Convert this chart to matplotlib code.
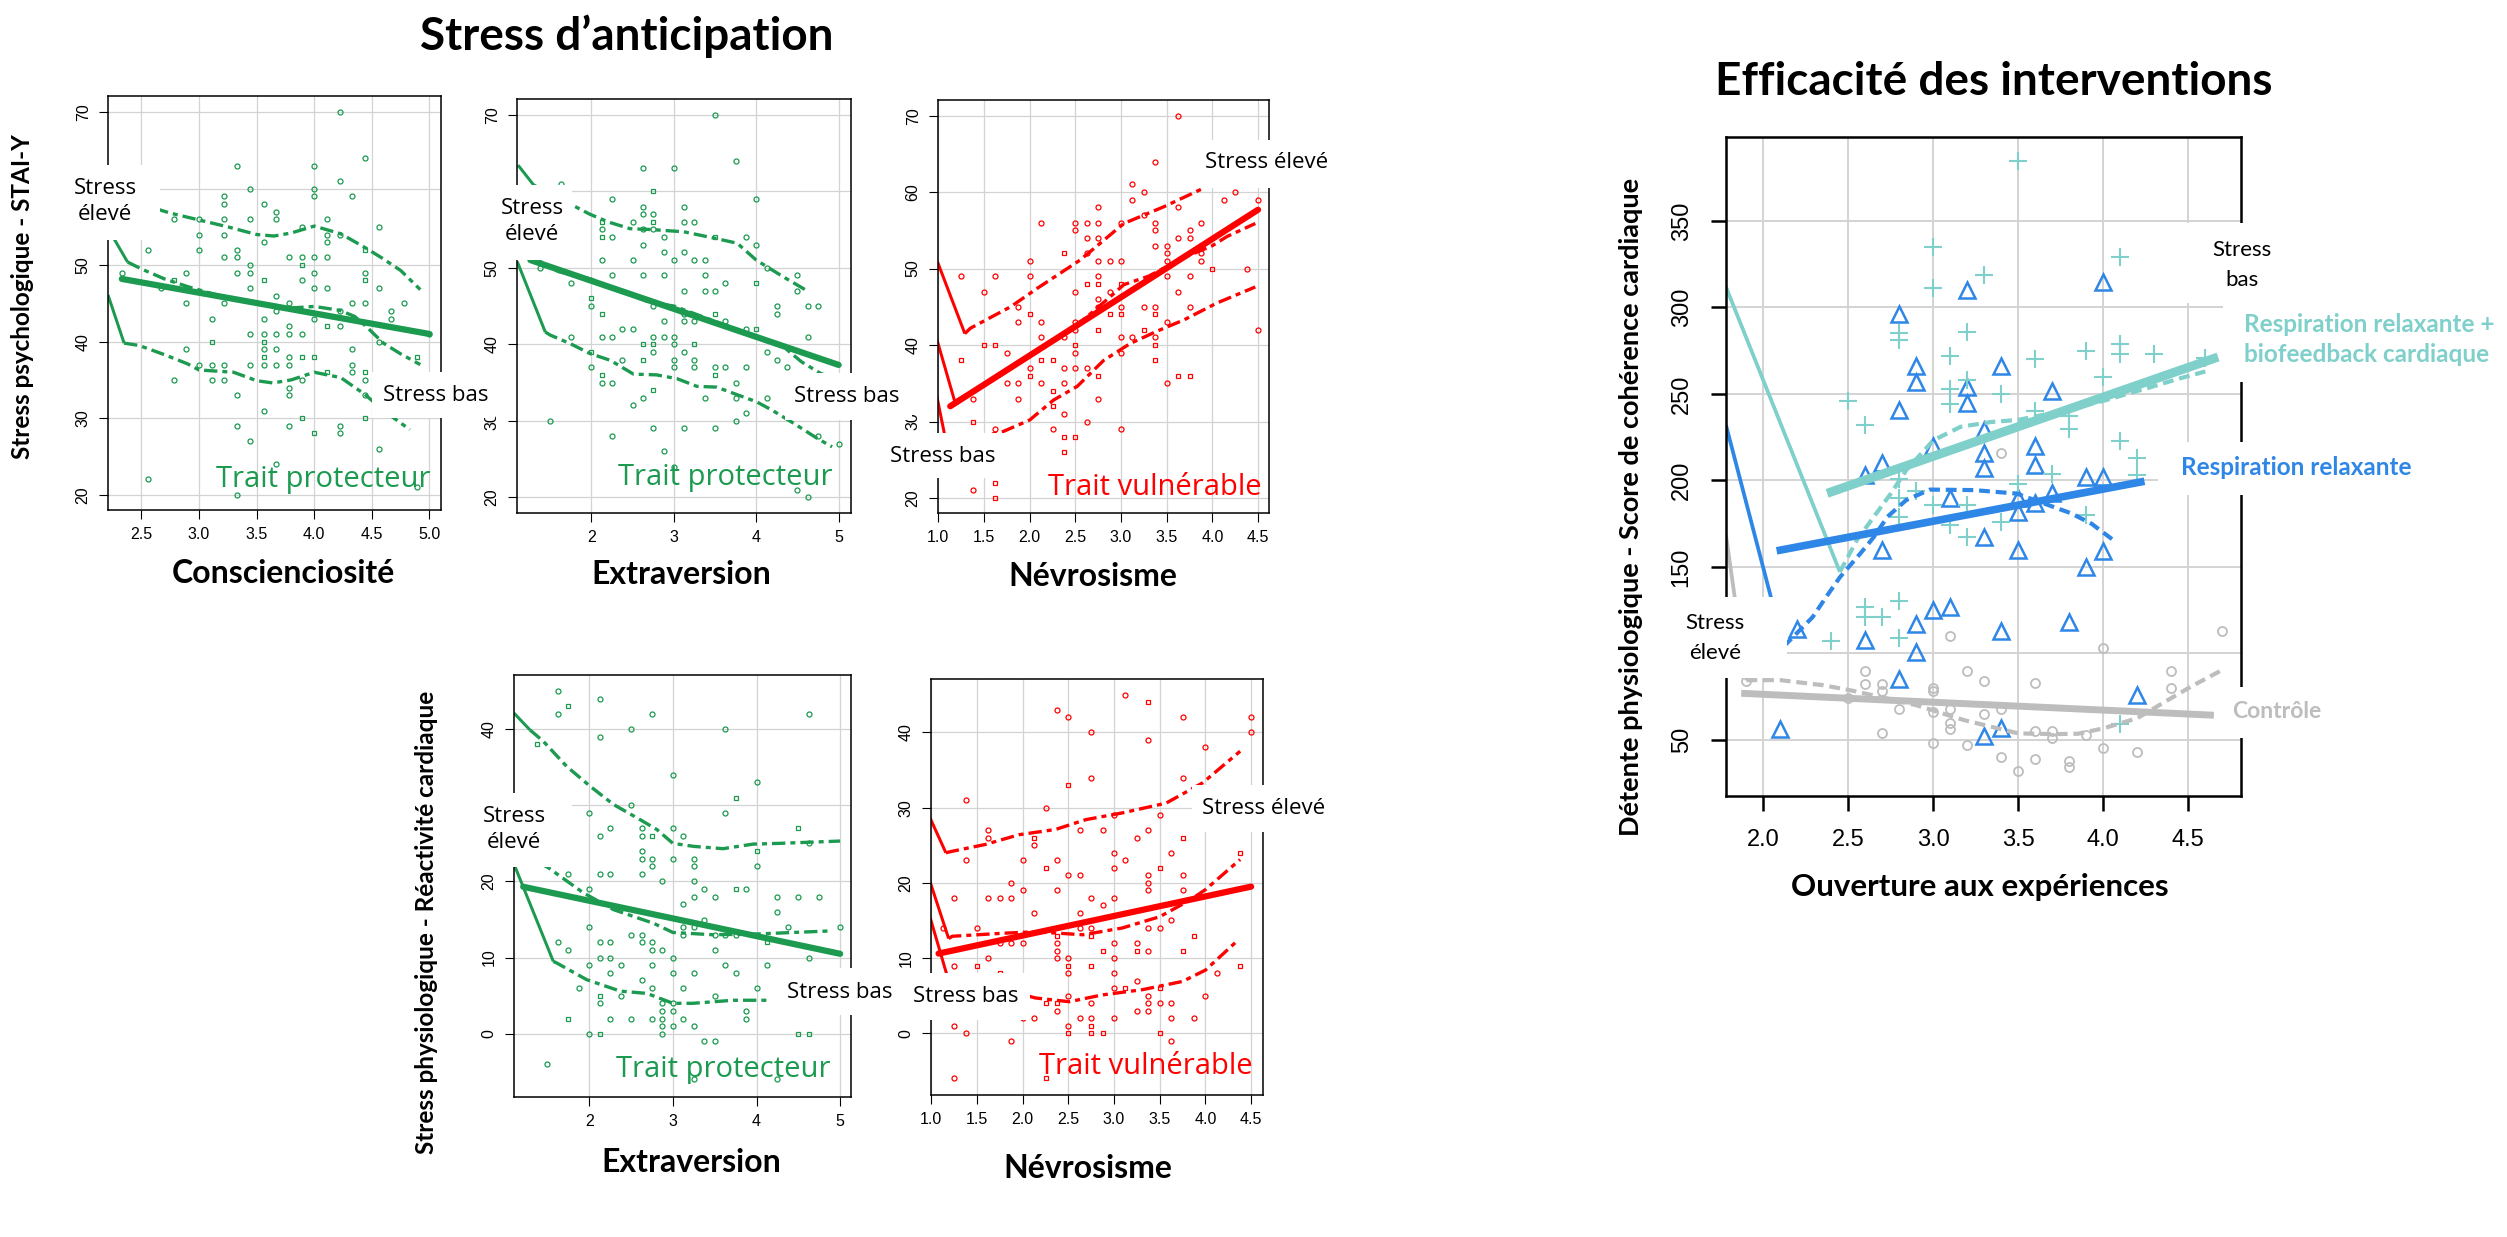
import matplotlib
matplotlib.use("Agg")
import matplotlib.pyplot as plt
from matplotlib.patches import Rectangle
from matplotlib.ticker import FormatStrFormatter, FuncFormatter

W, H = 2507, 1237

GREEN = "#1b9a50"
RED = "#ff0000"
TEAL = "#7fcfca"
BLUE = "#2e86e6"
GREY = "#bdbdbd"
GRID = "#d3d3d3"

TICK_FONT = ["Liberation Sans", "DejaVu Sans"]
HEAD_FONT = ["Lato", "DejaVu Sans"]
NOTE_FONT = ["Open Sans", "DejaVu Sans"]

# ---------------- data : Conscienciosité / STAI-Y ----------------
consc_x = [2.33, 2.56, 2.67, 2.78, 2.89, 3.0, 3.11, 3.22, 3.33, 3.44, 3.56, 3.67,
           3.78, 3.89, 4.0, 4.11, 4.22, 4.33, 4.44, 4.56, 4.67, 4.78, 4.89, 5.0]
consc_stai_o = [[49], [52, 22], [47], [56, 35], [49, 45, 39], [56, 54, 52, 37], [43, 37, 35],
                [59, 58, 56, 54, 51, 45, 37, 35], [63, 52, 51, 49, 33, 29, 20],
                [60, 56, 50, 49, 47, 41, 37, 27], [58, 53, 43, 41, 39, 37, 31],
                [57, 56, 46, 44, 41, 39, 37, 24], [51, 45, 42, 41, 38, 37, 34, 33, 29],
                [55, 51, 48, 41, 35], [63, 60, 59, 51, 49, 47, 43], [56, 54, 53, 51, 47],
                [70, 61, 54, 44, 42, 29, 28], [59, 45, 39, 37, 36], [64, 49, 45, 35, 33],
                [55, 47, 40, 26], [44, 43], [45], [21], [41]]
consc_stai_s = [[], [], [], [48], [], [], [40], [], [], [], [48, 40, 38], [], [],
                [50, 38, 30], [38, 28], [42, 36], [], [], [52, 48, 36, 30], [], [], [], [38], []]
consc_fit_x, consc_fit_y = [2.33, 5.0], [48.2, 41.0]
consc_upper = [(2.21, 61.5), (2.62, 57.4), (2.75, 56.8), (3.0, 55.9), (3.25, 55.0), (3.5, 54.0),
               (3.65, 53.8), (3.8, 54.2), (4.0, 55.1), (4.23, 54.1), (4.44, 52.3), (4.58, 51.0),
               (4.75, 49.3), (4.92, 46.8)]
consc_mid = [(2.21, 54.8), (2.38, 50.4), (2.5, 49.5), (2.7, 48.2), (2.9, 47.2), (3.2, 45.9),
             (3.5, 45.0), (3.8, 44.4), (4.0, 44.6), (4.22, 44.1), (4.35, 43.3), (4.45, 42.0),
             (4.6, 39.8), (4.75, 38.4), (4.92, 37.0)]
consc_lower = [(2.21, 46.1), (2.35, 39.8), (2.48, 39.5), (2.7, 38.3), (2.9, 37.1), (3.0, 36.3),
               (3.3, 36.0), (3.5, 34.9), (3.64, 34.6), (3.8, 35.0), (4.0, 36.0), (4.23, 35.3),
               (4.44, 33.1), (4.6, 31.0), (4.83, 28.5)]

# ---------------- data : Extraversion / STAI-Y ----------------
extra_x = [1.375, 1.5, 1.625, 1.75, 2.0, 2.125, 2.25, 2.375, 2.5, 2.625, 2.75, 2.875, 3.0,
           3.125, 3.25, 3.375, 3.5, 3.625, 3.75, 3.875, 4.0, 4.125, 4.25, 4.375, 4.5, 4.625,
           4.75, 5.0]
extra_stai_o = [[50], [30], [61], [48, 41], [45, 37], [55, 51, 41, 35], [59, 54, 49, 41, 35, 28],
                [42, 38], [56, 51, 42, 32], [63, 58, 57, 55, 53, 49, 33], [57, 55, 45, 41, 39, 29],
                [54, 52, 49, 43, 41, 26], [63, 51, 41, 40, 38, 37, 24],
                [58, 56, 52, 47, 44, 43, 39, 29], [56, 51, 43, 38, 37], [51, 49, 47, 33],
                [70, 47, 37, 29], [48, 43, 37], [64, 35, 33, 30], [54, 42, 37, 31], [59, 53],
                [50, 39, 33], [45, 44, 38], [37], [49, 47, 21], [45, 41, 20], [45, 28], [27]]
extra_stai_s = [[], [], [], [], [46, 39], [56, 54, 44, 36], [], [], [], [40, 38], [60, 56, 40, 34],
                [], [], [], [40], [], [54, 44, 36], [], [], [], [48, 42], [], [], [], [], [], [], []]
extra_fit_x, extra_fit_y = [1.26, 5.0], [51.0, 37.3]
extra_upper = [(1.11, 63.4), (1.30, 60.8), (1.98, 57.0), (2.2, 56.0), (2.47, 55.1), (2.71, 55.0),
               (3.12, 54.7), (3.52, 53.8), (3.77, 53.2), (4.0, 51.0), (4.33, 48.8), (4.6, 47.1)]
extra_mid = [(1.10, 54.5), (1.26, 51.5), (1.6, 49.5), (2.0, 48.5), (2.35, 47.0), (2.7, 45.5),
             (3.0, 45.0), (3.5, 43.0), (4.0, 41.0), (4.35, 39.5), (4.55, 37.7), (4.78, 36.2),
             (4.95, 35.5)]
extra_lower = [(1.10, 50.8), (1.44, 41.6), (1.5, 41.2), (1.74, 40.1), (1.98, 38.8), (2.23, 37.9),
               (2.51, 36.1), (2.79, 36.0), (3.04, 35.5), (3.28, 34.5), (3.52, 34.4), (3.77, 33.4),
               (4.0, 32.5), (4.19, 31.4), (4.45, 29.7), (4.74, 27.7), (4.92, 26.6)]

# ---------------- data : Névrosisme / STAI-Y ----------------
nevro_x = [1.25, 1.375, 1.5, 1.625, 1.75, 1.875, 2.0, 2.125, 2.25, 2.375, 2.5, 2.625, 2.75,
           2.875, 3.0, 3.125, 3.25, 3.375, 3.5, 3.625, 3.75, 3.875, 4.0, 4.125, 4.25, 4.375, 4.5]
nevro_stai_o = [[49], [33, 21], [47], [49, 29], [39, 35], [45, 43, 35, 33], [51, 49, 37],
                [56, 43, 41, 35], [29], [41, 37, 35, 31], [56, 55, 47, 43, 42, 39, 37],
                [56, 54, 52, 37, 30], [58, 56, 54, 51, 49, 46, 45, 33], [51, 47],
                [56, 51, 45, 41, 39, 29], [61, 59, 41], [60, 57, 45], [64, 56, 55, 53, 45, 41],
                [53, 52, 51, 49, 43, 35], [70, 58, 54, 47], [55, 54, 49, 45], [56, 52, 51], [],
                [59], [60], [50], [59, 42]]
nevro_stai_s = [[38], [30], [40], [40, 22, 20], [], [], [44, 36], [38], [38, 34, 32], [52, 28, 26],
                [40, 28], [48], [48, 42, 36], [44], [48, 44], [], [42], [44, 40, 38], [], [36],
                [36], [], [50], [], [], [], []]
nevro_fit_x, nevro_fit_y = [1.13, 4.5], [32.0, 57.7]
nevro_upper = [(0.99, 50.9), (1.29, 41.5), (1.35, 42.2), (1.79, 45.0), (2.08, 47.4), (2.55, 51.1),
               (3.03, 55.9), (3.47, 58.1), (3.9, 60.5)]
nevro_mid = [(0.98, 40.9), (1.18, 32.6), (1.5, 34.9), (2.0, 38.6), (2.5, 42.4), (2.88, 46.3),
             (3.03, 47.9), (3.3, 49.0), (3.7, 51.5), (4.0, 53.0), (4.16, 54.2), (4.47, 55.9)]
nevro_lower = [(0.98, 33.5), (1.09, 27.0), (1.71, 28.7), (2.0, 30.2), (2.26, 32.8), (2.52, 34.6),
               (2.81, 38.0), (3.1, 40.2), (3.39, 41.8), (3.69, 43.3), (4.05, 45.5), (4.47, 47.6)]

# ---------------- data : Extraversion / réactivité cardiaque ----------------
extra2_x = [1.375, 1.5, 1.625, 1.75, 1.875, 2.0, 2.125, 2.25, 2.375, 2.5, 2.625, 2.75, 2.875,
            3.0, 3.125, 3.25, 3.375, 3.5, 3.625, 3.75, 3.875, 4.0, 4.125, 4.25, 4.375, 4.5,
            4.625, 4.75, 5.0]
extra_hr_o = [[], [-4], [45, 42, 12], [21, 11], [6], [29, 19, 14, 9, 0],
              [44, 39, 26, 21, 12, 10, 4], [27, 21, 12, 10, 8, 2], [9, 5], [40, 30, 13, 2],
              [27, 26, 24, 23, 21, 13, 12, 7], [42, 23, 22, 12, 11, 9, 6, 2],
              [20, 11, 4, 3, 2, 1, 0], [34, 27, 23, 10, 8, 4, 3, 1], [26, 17, 14, 13, 6, 2],
              [23, 22, 20, 18, 14, 8, 1, -6], [19, 15, -1], [18, 13, 11, 5, -1], [40, 29, 13, 9],
              [13, 8], [19, 3, 2], [33, 22, 6], [9], [18, 16, -6], [14], [18], [42, 25, 10],
              [18], [14]]
extra_hr_s = [[38], [], [], [43, 2], [], [], [5, 0], [], [], [], [], [26], [], [], [], [], [], [],
              [], [31, 19], [], [24], [12], [], [], [27, 0], [0], [], []]
extra2_fit_x, extra2_fit_y = [1.21, 5.0], [19.3, 10.5]
extra2_upper = [(1.10, 42.1), (1.29, 39.9), (1.45, 38.4), (1.73, 35.1), (2.01, 32.5), (2.29, 30.1),
                (2.61, 28.1), (2.81, 26.8), (3.0, 25.0), (3.25, 24.6), (3.6, 24.3), (3.96, 24.9),
                (4.28, 25.0), (5.0, 25.3)]
extra2_mid = [(1.10, 25.5), (1.40, 22.5), (1.51, 21.8), (1.93, 18.5), (2.29, 16.3), (2.77, 14.5),
              (3.0, 13.3), (3.48, 13.0), (4.0, 13.1), (4.88, 13.5)]
extra2_lower = [(1.11, 22.0), (1.57, 9.5), (1.61, 9.3), (1.97, 7.1), (2.37, 5.6), (2.69, 5.3),
                (3.0, 4.0), (3.24, 4.0), (3.72, 4.4), (4.16, 4.4)]

# ---------------- data : Névrosisme / réactivité cardiaque ----------------
nevro2_x = [1.125, 1.25, 1.375, 1.5, 1.625, 1.75, 1.875, 2.0, 2.125, 2.25, 2.375, 2.5, 2.625,
            2.75, 2.875, 3.0, 3.125, 3.25, 3.375, 3.5, 3.625, 3.75, 3.875, 4.0, 4.125, 4.25,
            4.375, 4.5]
nevro_hr_o = [[14], [18, 9, 1, -6], [31, 23, 0], [14], [27, 26, 18, 10], [18, 12],
              [20, 18, 12, -1], [23, 19, 12, 2], [25, 16, 2], [30], [43, 23, 19, 12, 11, 10, 3],
              [42, 21, 10, 8, 5, 1], [27, 21, 16, 14, 2], [40, 34, 18, 14, 4, 2], [27, 17],
              [29, 24, 22, 18, 12, 10, 8, 6, 2], [45, 23], [26, 12, 7, 3],
              [39, 27, 21, 20, 19, 14, 11, 5, 4, 3], [29, 14, 4], [24, 15, 4, 2, -1],
              [42, 34, 21, 19], [2], [38, 5], [8], [], [], [42, 40]]
nevro_hr_s = [[], [], [], [9], [], [8], [], [], [26], [22, 4, -6], [13, 4], [33, 9, 0], [],
              [13, 9, 1, 0], [11, 0], [], [6], [11], [44], [22, 6, 0], [], [26, 11], [13], [],
              [], [], [24, 9], []]
nevro2_fit_x, nevro2_fit_y = [1.08, 4.5], [10.6, 19.5]
nevro2_upper = [(0.98, 28.8), (1.16, 24.0), (1.23, 24.2), (1.59, 25.1), (1.96, 26.4), (2.36, 27.1),
                (2.69, 28.4), (3.09, 29.3), (3.57, 30.6), (3.97, 33.3), (4.38, 37.5)]
nevro2_mid = [(0.98, 20.4), (1.19, 12.6), (1.23, 12.9), (1.78, 13.3), (2.14, 13.5), (2.66, 13.1),
              (3.09, 14.0), (3.5, 15.5), (3.83, 17.7), (4.0, 19.1), (4.38, 23.1)]
nevro2_lower = [(0.98, 15.7), (1.17, 7.8), (2.14, 4.7), (2.51, 4.2), (2.87, 5.1), (3.31, 5.8),
                (3.75, 6.9), (4.0, 8.4), (4.34, 12.2)]

# ---------------- data : interventions ----------------
ctrl_x = [1.9, 2.5, 2.6, 2.6, 2.7, 2.7, 2.7, 2.8, 3.0, 3.0, 3.0, 3.0, 3.1, 3.1, 3.1, 3.1, 3.2, 3.2,
          3.3, 3.3, 3.4, 3.4, 3.4, 3.5, 3.6, 3.6, 3.6, 3.7, 3.7, 3.8, 3.8, 3.9, 4.0, 4.0, 4.2,
          4.4, 4.4, 4.7]
ctrl_y = [84, 74, 90, 82, 82, 78, 54, 68, 80, 78, 66, 48, 110, 68, 60, 56, 90, 47, 84, 65, 216,
          68, 40, 32, 83, 55, 39, 55, 51, 38, 34, 53, 103, 45, 43, 90, 80, 113]
resp_x = [2.1, 2.2, 2.6, 2.6, 2.7, 2.7, 2.8, 2.8, 2.8, 2.9, 2.9, 2.9, 2.9, 3.0, 3.0, 3.1, 3.1,
          3.2, 3.2, 3.2, 3.3, 3.3, 3.3, 3.3, 3.3, 3.4, 3.4, 3.4, 3.5, 3.5, 3.5, 3.6, 3.6, 3.6,
          3.7, 3.7, 3.8, 3.9, 3.9, 4.0, 4.0, 4.0, 4.2]
resp_y = [56, 114, 108, 203, 210, 160, 296, 241, 85, 266, 257, 117, 101, 220, 125, 190, 127,
          310, 254, 245, 229, 216, 207, 167, 52, 266, 113, 57, 190, 182, 160, 220, 209, 187,
          252, 193, 118, 202, 150, 315, 202, 159, 76]
bio_x = [3.5, 3.0, 3.0, 3.3, 4.1, 2.8, 2.8, 3.2, 3.1, 3.6, 3.9, 4.1, 4.1, 4.3, 4.6, 2.5, 2.6,
         3.1, 3.1, 3.2, 3.4, 3.6, 3.8, 3.8, 4.0, 4.1, 4.2, 3.7, 2.8, 2.8, 2.9, 3.0, 3.2, 2.8,
         3.1, 3.2, 3.4, 3.5, 3.9, 2.6, 2.6, 2.7, 2.8, 2.8, 2.4, 4.1, 4.2]
bio_y = [385, 335, 311, 319, 329, 285, 281, 286, 272, 270, 275, 279, 273, 273, 271, 246, 232,
         253, 244, 258, 250, 240, 237, 230, 260, 223, 213, 204, 201, 190, 194, 186, 186, 179,
         174, 167, 176, 198, 180, 127, 121, 121, 130, 109, 107, 59, 203]
ctrl_fit_x, ctrl_fit_y = [1.89, 4.63], [76.8, 64.3]
resp_fit_x, resp_fit_y = [2.1, 4.22], [159.7, 199.1]
bio_fit_x, bio_fit_y = [2.40, 4.65], [193.4, 270.5]
ctrl_smooth = [(1.78, 168.3), (1.90, 84.5), (2.1, 84.5), (2.35, 81.6), (2.53, 78.3), (2.9, 70.0),
               (3.18, 61.4), (3.5, 53.7), (3.71, 53.3), (3.85, 53.5), (4.0, 56.6), (4.2, 62.5),
               (4.38, 73.0), (4.52, 81.0), (4.69, 89.9)]
resp_smooth = [(1.78, 231.9), (2.12, 104.0), (2.29, 121.0), (2.37, 132.7), (2.45, 144.0),
               (2.57, 157.7), (2.65, 167.3), (2.73, 179.0), (2.84, 188.6), (2.98, 194.7),
               (3.24, 194.4), (3.49, 192.4), (3.81, 181.0), (3.93, 175.0), (4.06, 165.4)]
bio_smooth = [(1.78, 311.8), (2.45, 147.1), (2.55, 165.5), (2.65, 179.0), (2.75, 192.4),
              (2.84, 205.9), (3.0, 223.2), (3.16, 231.0), (3.34, 233.8), (3.5, 235.0),
              (3.75, 240.0), (4.0, 246.0), (4.28, 254.0), (4.45, 259.0), (4.6, 263.0)]


fig = plt.figure(figsize=(W / 100, H / 100), dpi=100)


def fx(px):
    return px / W


def fy(py):
    return 1 - py / H


def add_axes(box):
    l, t, r, b = box
    return fig.add_axes([fx(l), fy(b), (r - l) / W, (b - t) / H])


def expand(xs, cols):
    px, py = [], []
    for x, ys in zip(xs, cols):
        px += [x] * len(ys)
        py += ys
    return px, py


def style_axes(ax, xlim, ylim, xticks, yticks, xfmt, hide_y=(), big=False):
    ax.set_xlim(*xlim)
    ax.set_ylim(*ylim)
    ax.set_xticks(xticks)
    ax.set_yticks(yticks)
    ax.xaxis.set_major_formatter(FormatStrFormatter(xfmt))
    # tick labels that sit under the white annotation boxes are left empty
    ax.yaxis.set_major_formatter(FuncFormatter(lambda v, p: "" if v in hide_y else "%d" % v))
    ax.grid(True, color=GRID, lw=1.4 if big else 0.9)
    ax.set_axisbelow(True)
    for s in ax.spines.values():
        s.set_linewidth(1.8 if big else 1.1)
    if big:
        ax.tick_params(length=11, width=1.8, labelsize=17, pad=13)
    else:
        ax.tick_params(length=6.5, width=0.8, labelsize=11.5, pad=6)
    for lab in ax.get_xticklabels() + ax.get_yticklabels():
        lab.set_family(TICK_FONT)
    for lab in ax.get_yticklabels():
        lab.set_rotation(90)
        lab.set_va("center")


def smoother(ax, pts, color, lw, ls):
    xs = [p[0] for p in pts]
    ys = [p[1] for p in pts]
    ax.plot(xs[:2], ys[:2], color=color, lw=lw * 0.9, solid_capstyle="butt")
    ax.plot(xs[1:], ys[1:], color=color, lw=lw, ls=ls)


BAND_LS = (0, (4, 1.5, 1.5, 1.5))


def trait_panel(box, xlim, ylim, xticks, yticks, xfmt, xs, circ, sq, fit_x, fit_y,
                bands, color, hide_y=()):
    ax = add_axes(box)
    style_axes(ax, xlim, ylim, xticks, yticks, xfmt, hide_y)
    ox, oy = expand(xs, circ)
    sx, sy = expand(xs, sq)
    ax.plot(ox, oy, "o", ls="none", mfc="none", mec=color, ms=3.6, mew=0.9)
    ax.plot(sx, sy, "s", ls="none", mfc="none", mec=color, ms=3.2, mew=0.9)
    for band in bands:
        smoother(ax, band, color, 2.4, BAND_LS)
    ax.plot(fit_x, fit_y, color=color, lw=4.5, solid_capstyle="round")
    return ax


trait_panel((108, 96, 441, 510), (2.21, 5.10), (18.0, 72.1), [2.5, 3.0, 3.5, 4.0, 4.5, 5.0],
            [20, 30, 40, 50, 60, 70], "%.1f", consc_x, consc_stai_o, consc_stai_s,
            consc_fit_x, consc_fit_y, [consc_upper, consc_mid, consc_lower], GREEN, (60,))
trait_panel((517, 99, 851, 513), (1.097, 5.15), (17.95, 72.05), [2, 3, 4, 5],
            [20, 30, 40, 50, 60, 70], "%d", extra_x, extra_stai_o, extra_stai_s,
            extra_fit_x, extra_fit_y, [extra_upper, extra_mid, extra_lower], GREEN, (60,))
trait_panel((938, 100, 1269, 513), (0.996, 4.62), (18.04, 72.05),
            [1.0, 1.5, 2.0, 2.5, 3.0, 3.5, 4.0, 4.5], [20, 30, 40, 50, 60, 70], "%.1f",
            nevro_x, nevro_stai_o, nevro_stai_s, nevro_fit_x, nevro_fit_y,
            [nevro_upper, nevro_mid, nevro_lower], RED)
trait_panel((514, 675, 851, 1097), (1.10, 5.13), (-8.3, 47.1), [2, 3, 4, 5],
            [0, 10, 20, 30, 40], "%d", extra2_x, extra_hr_o, extra_hr_s,
            extra2_fit_x, extra2_fit_y, [extra2_upper, extra2_mid, extra2_lower], GREEN, (30,))
trait_panel((931, 679, 1263, 1095), (0.997, 4.63), (-8.2, 47.1),
            [1.0, 1.5, 2.0, 2.5, 3.0, 3.5, 4.0, 4.5], [0, 10, 20, 30, 40], "%.1f",
            nevro2_x, nevro_hr_o, nevro_hr_s, nevro2_fit_x, nevro2_fit_y,
            [nevro2_upper, nevro2_mid, nevro2_lower], RED)

# ---------------- interventions panel ----------------
ax6 = add_axes((1726, 137, 2241, 796))
style_axes(ax6, (1.78, 4.81), (17.5, 398.6), [2.0, 2.5, 3.0, 3.5, 4.0, 4.5],
           [50, 100, 150, 200, 250, 300, 350], "%.1f", hide_y=(100,), big=True)
ax6.plot(ctrl_x, ctrl_y, "o", ls="none", mfc="none", mec=GREY, ms=6.5, mew=1.3)
ax6.plot(resp_x, resp_y, "^", ls="none", mfc="none", mec=BLUE, ms=11, mew=1.8)
ax6.plot(bio_x, bio_y, "+", ls="none", color=TEAL, ms=13, mew=1.5)
SMOOTH_LS = (0, (2.6, 1.4))
smoother(ax6, ctrl_smooth, GREY, 3.0, SMOOTH_LS)
smoother(ax6, resp_smooth, BLUE, 3.0, SMOOTH_LS)
smoother(ax6, bio_smooth, TEAL, 3.0, SMOOTH_LS)
ax6.plot(ctrl_fit_x, ctrl_fit_y, color=GREY, lw=5.0)
ax6.plot(resp_fit_x, resp_fit_y, color=BLUE, lw=5.5)
ax6.plot(bio_fit_x, bio_fit_y, color=TEAL, lw=6.5)


# ---------------- texts ----------------
def ftext(x, y, s, **kw):
    fig.text(fx(x), fy(y), s, **kw)


head = dict(family=HEAD_FONT, weight="bold", ha="center", va="center")
ftext(627, 36, "Stress d’anticipation", fontsize=33, **head)
ftext(1994, 82, "Efficacité des interventions", fontsize=33, **head)

for x, y, s in [(283, 573, "Conscienciosité"), (681, 575, "Extraversion"),
                (1093, 577, "Névrosisme"), (691, 1162, "Extraversion"),
                (1088, 1168, "Névrosisme")]:
    ftext(x, y, s, fontsize=23, **head)
ftext(1980, 887, "Ouverture aux expériences", fontsize=22.5, **head)
ftext(23, 297, "Stress psychologique - STAI-Y", fontsize=17.5, rotation=90, **head)
ftext(426, 922, "Stress physiologique - Réactivité cardiaque", fontsize=17.5, rotation=90, **head)
ftext(1631, 507, "Détente physiologique - Score de cohérence cardiaque", fontsize=19.5,
      rotation=90, **head)

trait = dict(family=NOTE_FONT, ha="right", va="center", fontsize=21)
ftext(430, 480, "Trait protecteur", color=GREEN, **trait)
ftext(832, 478, "Trait protecteur", color=GREEN, **trait)
ftext(1262, 488, "Trait vulnérable", color=RED, **trait)
ftext(830, 1070, "Trait protecteur", color=GREEN, **trait)
ftext(1253, 1067, "Trait vulnérable", color=RED, **trait)


def white_box(l, t, r, b):
    fig.add_artist(Rectangle((fx(l), fy(b)), (r - l) / W, (b - t) / H,
                             transform=fig.transFigure, facecolor="white",
                             edgecolor="none", zorder=10))


note = dict(family=NOTE_FONT, ha="center", va="center", fontsize=16, zorder=11)
# (box, [(x, y, line), ...])
stress_boxes = [
    ((60, 165, 160, 240), [(105, 188, "Stress"), (105, 215, "élevé")]),
    ((372, 372, 495, 418), [(436, 395, "Stress bas")]),
    ((486, 185, 572, 260), [(532, 208, "Stress"), (532, 235, "élevé")]),
    ((785, 373, 912, 420), [(847, 397, "Stress bas")]),
    ((1195, 140, 1345, 188), [(1267, 163, "Stress élevé")]),
    ((883, 433, 1003, 478), [(943, 456, "Stress bas")]),
    ((468, 793, 572, 867), [(514, 817, "Stress"), (514, 843, "élevé")]),
    ((780, 968, 902, 1015), [(840, 992, "Stress bas")]),
    ((1192, 785, 1340, 832), [(1264, 808, "Stress élevé")]),
    ((905, 973, 1030, 1020), [(966, 997, "Stress bas")]),
]
for box, lines in stress_boxes:
    white_box(*box)
    for x, y, s in lines:
        ftext(x, y, s, **note)

note6 = dict(family=HEAD_FONT, ha="center", va="center", fontsize=16, zorder=11)
white_box(1660, 597, 1787, 678)
ftext(1715, 623, "Stress", **note6)
ftext(1715, 653, "élevé", **note6)
white_box(2180, 223, 2300, 303)
ftext(2242, 250, "Stress", **note6)
ftext(2242, 280, "bas", **note6)

grp = dict(family=HEAD_FONT, weight="bold", ha="left", va="center", fontsize=17.5, zorder=11)
white_box(2223, 303, 2495, 382)
ftext(2244, 325, "Respiration relaxante +", color=TEAL, **grp)
ftext(2244, 355, "biofeedback cardiaque", color=TEAL, **grp)
white_box(2158, 442, 2420, 495)
ftext(2181, 468, "Respiration relaxante", color=BLUE, **grp)
white_box(2215, 687, 2335, 738)
ftext(2232, 711, "Contrôle", color=GREY, fontsize=16.5,
      **{k: v for k, v in grp.items() if k != "fontsize"})

fig.savefig("out.png", dpi=100)
